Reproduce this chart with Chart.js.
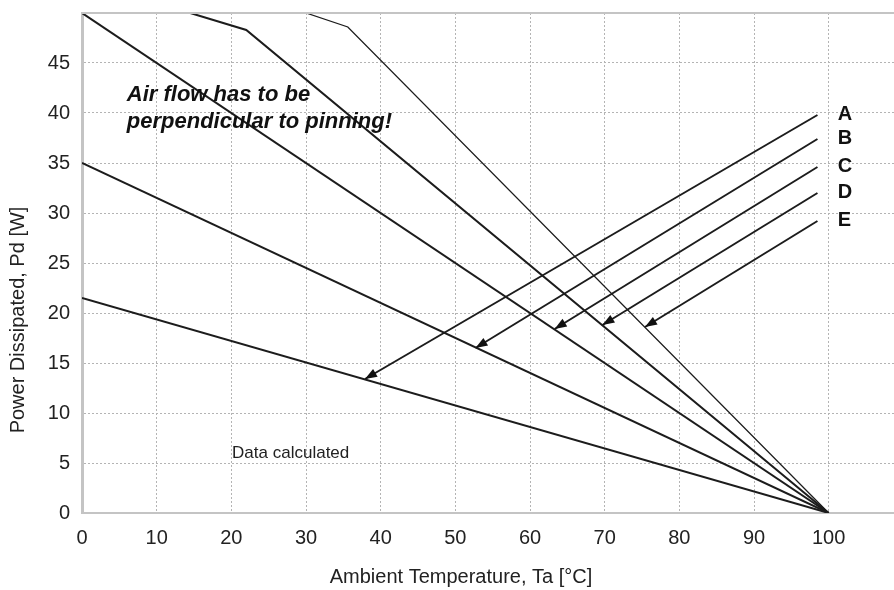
<!DOCTYPE html>
<html>
<head>
<meta charset="utf-8">
<script src="https://cdn.jsdelivr.net/npm/chart.js@4/dist/chart.umd.min.js"></script>
<style>
  body { margin: 0; background: #fff; }
  #wrap { width: 894px; height: 590px; }
</style>
</head>
<body>
<div id="wrap"><canvas id="deratingChart"></canvas></div>
<script>
// Derating curves (Ta in °C, Pd in W)
const curveNames = ['A', 'B', 'C', 'D', 'E'];
const curveTa = [[0, 100], [0, 100], [0, 100], [0, 14.5, 22, 100], [0, 30, 35.6, 100]];
const curvePd = [[21.5, 0], [35, 0], [50, 0], [50, 50, 48.3, 0], [50, 50, 48.6, 0]];
const curveWidths = [2, 2, 2, 2, 1.3];

// Arrows from the letter labels to their curve
const arrowFromTa = [98.5, 98.5, 98.5, 98.5, 98.5];
const arrowFromPd = [39.8, 37.4, 34.6, 32.0, 29.2];
const arrowToTa = [37.9, 52.7, 63.3, 69.7, 75.4];
const arrowToPd = [13.4, 16.5, 18.4, 18.8, 18.6];

const xTicks = [0, 10, 20, 30, 40, 50, 60, 70, 80, 90, 100];
const yTicks = [0, 5, 10, 15, 20, 25, 30, 35, 40, 45];

const FONT = '"Liberation Sans", Arial, sans-serif';

const datasets = [];
curveNames.forEach((name, i) => {
    datasets.push({
        label: 'Curve ' + name,
        data: curveTa[i].map((t, j) => ({ x: t, y: curvePd[i][j] })),
        borderColor: '#1c1c1c',
        borderWidth: curveWidths[i],
        showLine: true,
        pointRadius: 0,
        fill: false
    });
});
curveNames.forEach((name, i) => {
    datasets.push({
        label: 'Arrow ' + name,
        isArrow: true,
        data: [{ x: arrowFromTa[i], y: arrowFromPd[i] }, { x: arrowToTa[i], y: arrowToPd[i] }],
        borderColor: '#1c1c1c',
        borderWidth: 2,
        showLine: true,
        pointRadius: 0,
        fill: false
    });
});

// arrow heads, texts and frame
const decorations = {
    id: 'decorations',
    afterDatasetsDraw(chart) {
        const ctx = chart.ctx;
        const xs = chart.scales.x, ys = chart.scales.y;
        const area = chart.chartArea;

        // top frame line
        ctx.save();
        ctx.strokeStyle = '#c4c4c4';
        ctx.lineWidth = 2;
        ctx.beginPath();
        ctx.moveTo(area.left, area.top);
        ctx.lineTo(area.right, area.top);
        ctx.stroke();

        // arrow heads
        ctx.fillStyle = '#111';
        chart.data.datasets.forEach((ds, i) => {
            if (!ds.isArrow) return;
            const pts = chart.getDatasetMeta(i).data;
            const p0 = pts[0], p1 = pts[1];
            const ang = Math.atan2(p1.y - p0.y, p1.x - p0.x);
            const len = 12, half = 4.5;
            ctx.save();
            ctx.translate(p1.x, p1.y);
            ctx.rotate(ang);
            ctx.beginPath();
            ctx.moveTo(0, 0);
            ctx.lineTo(-len, -half);
            ctx.lineTo(-len, half);
            ctx.closePath();
            ctx.fill();
            ctx.restore();
        });

        // letter labels
        ctx.fillStyle = '#111';
        ctx.font = 'bold 20px ' + FONT;
        ctx.textAlign = 'left';
        ctx.textBaseline = 'middle';
        curveNames.forEach((name, i) => {
            ctx.fillText(name, xs.getPixelForValue(101.2), ys.getPixelForValue(arrowFromPd[i]) - 1);
        });

        // notes
        ctx.font = 'italic bold 22px ' + FONT;
        ctx.fillText('Air flow has to be', xs.getPixelForValue(6), ys.getPixelForValue(41.8));
        ctx.fillText('perpendicular to pinning!', xs.getPixelForValue(6), ys.getPixelForValue(39.1));
        ctx.font = '17px ' + FONT;
        ctx.fillStyle = '#222';
        ctx.fillText('Data calculated', xs.getPixelForValue(20.1), ys.getPixelForValue(6));

        // axis titles
        ctx.font = '20px ' + FONT;
        ctx.fillStyle = '#222';
        ctx.textAlign = 'center';
        ctx.fillText('Ambient Temperature, Ta [°C]', 461, 577);
        ctx.translate(18, 320);
        ctx.rotate(-Math.PI / 2);
        ctx.fillText('Power Dissipated, Pd [W]', 0, 0);
        ctx.restore();
    }
};

const ctxEl = document.getElementById('deratingChart');
new Chart(ctxEl, {
    type: 'scatter',
    data: { datasets: datasets },
    options: {
        responsive: true,
        maintainAspectRatio: false,
        animation: false,
        layout: { padding: { top: 13, right: 0, left: 0, bottom: 0 } },
        plugins: {
            legend: { display: false },
            tooltip: { enabled: false }
        },
        scales: {
            x: {
                type: 'linear',
                min: 0,
                max: 108.75,
                afterBuildTicks: s => { s.ticks = xTicks.map(v => ({ value: v })); },
                afterFit: s => { s.height = 77; s.paddingLeft = 0; s.paddingRight = 0; },
                ticks: { font: { family: FONT, size: 20 }, color: '#222', padding: 13 },
                grid: { color: '#b4b4b4', drawTicks: false },
                border: { color: '#c4c4c4', width: 2, dash: [2, 2] }
            },
            y: {
                type: 'linear',
                min: 0,
                max: 50,
                afterBuildTicks: s => { s.ticks = yTicks.map(v => ({ value: v })); },
                afterFit: s => { s.width = 82; s.paddingTop = 0; s.paddingBottom = 0; },
                ticks: { font: { family: FONT, size: 20 }, color: '#222', padding: 12 },
                grid: { color: '#b4b4b4', drawTicks: false },
                border: { color: '#c4c4c4', width: 3, dash: [2, 2] }
            }
        }
    },
    plugins: [decorations]
});
</script>
</body>
</html>
